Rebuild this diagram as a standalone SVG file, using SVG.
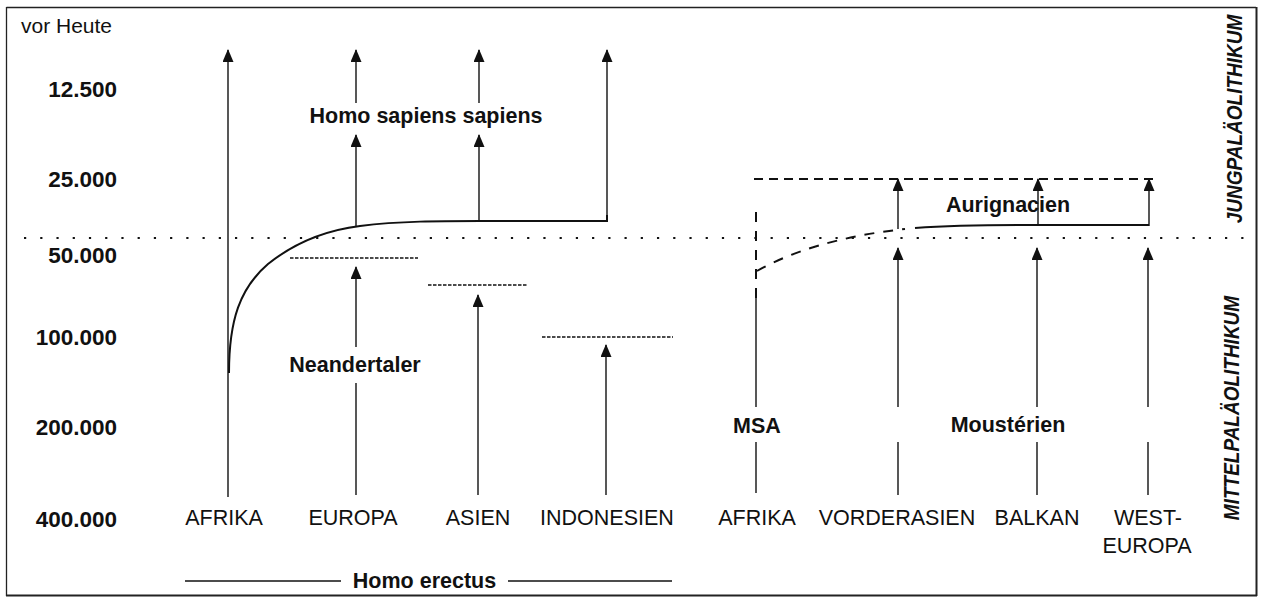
<svg xmlns="http://www.w3.org/2000/svg" width="1261" height="598" viewBox="0 0 1261 598">
<style>
.t{font-family:"Liberation Sans",Arial,sans-serif;fill:#111}
.b{font-weight:bold}
.n{font-size:22.5px;font-weight:bold;text-anchor:end}
.c{font-size:21.5px;text-anchor:middle}
.l{font-size:21.5px;font-weight:bold;text-anchor:middle}
.v{font-size:19px;font-weight:bold;font-style:italic;text-anchor:middle}
.ln{stroke:#111;stroke-width:1.4;fill:none}
.ar{stroke:#111;stroke-width:1.4;fill:none;marker-end:url(#ah)}
.cv{stroke:#111;stroke-width:2;fill:none}
.dd{stroke:#111;stroke-width:1.6;stroke-dasharray:3.5 1.5;fill:none}
.dl{stroke:#111;stroke-width:1.8;stroke-dasharray:9 6;fill:none}
.dc{stroke:#111;stroke-width:2;stroke-dasharray:10 9;fill:none}
</style>
<defs>
<marker id="ah" viewBox="0 0 13 11" refX="12" refY="5.5" markerWidth="13" markerHeight="11" orient="auto" markerUnits="userSpaceOnUse">
<path d="M0,0 L13,5.5 L0,11 Z" fill="#111"/>
</marker>
</defs>
<rect x="0" y="0" width="1261" height="598" fill="#fff"/>
<g id="frame">
<path d="M6.5,7.5 L1256,7.5 M6.5,7 L6.5,596" stroke="#222" stroke-width="1.3" fill="none"/>
<path d="M1256.5,7 L1256.5,596 M6,595.5 L1257,595.5" stroke="#222" stroke-width="2" fill="none"/>
</g>
<g id="axis">
<text class="t" x="21" y="33" font-size="21">vor Heute</text>
<text class="t n" x="117" y="97">12.500</text>
<text class="t n" x="117" y="187">25.000</text>
<text class="t n" x="117" y="263">50.000</text>
<text class="t n" x="117" y="345">100.000</text>
<text class="t n" x="117" y="435">200.000</text>
<text class="t n" x="117" y="527">400.000</text>
</g>
<g id="period-line">
<line x1="24" y1="238" x2="1250" y2="238" stroke="#111" stroke-width="2.2" stroke-dasharray="2.2 14.03"/>
</g>
<g id="periods">
<text class="t v" transform="translate(1242,119) rotate(-90) scale(1,1.18)">JUNGPALÄOLITHIKUM</text>
<text class="t v" transform="translate(1239,408) rotate(-90) scale(1,1.18)">MITTELPALÄOLITHIKUM</text>
</g>
<g id="connectors">
<line class="ar" x1="228" y1="497" x2="228" y2="50"/>
<path class="cv" d="M229,373 C229,320 240,288 268,264 C298,240 328,230 360,226 C400,221 440,221 480,221 L607,221 L607,215"/>
<line class="ar" x1="356" y1="227" x2="356" y2="135"/>
<line class="ar" x1="356" y1="103" x2="356" y2="50"/>
<line class="ar" x1="479" y1="221" x2="479" y2="135"/>
<line class="ar" x1="479" y1="103" x2="479" y2="50"/>
<line class="ar" x1="607" y1="221" x2="607" y2="50"/>
<line class="dd" x1="290" y1="258" x2="418" y2="258"/>
<line class="ln" x1="356" y1="495" x2="356" y2="383"/>
<line class="ar" x1="356" y1="347" x2="356" y2="267"/>
<line class="dd" x1="428" y1="285" x2="527" y2="285"/>
<line class="ar" x1="478" y1="495" x2="478" y2="295"/>
<line class="dd" x1="542" y1="337" x2="673" y2="337"/>
<line class="ar" x1="606" y1="495" x2="606" y2="345"/>
<line class="ln" x1="756" y1="493" x2="756" y2="442"/>
<line class="ln" x1="756" y1="407" x2="756" y2="298"/>
<line class="dc" x1="756" y1="298" x2="756" y2="208"/>
<line class="dl" x1="754" y1="179" x2="1153" y2="179"/>
<path class="dc" d="M757,271 C790,252 840,236 905,229"/>
<path class="cv" d="M915,228 C955,225 985,225 1020,225 L1149,225"/>
<line class="ar" x1="898" y1="229" x2="898" y2="179"/>
<line class="ar" x1="1038" y1="225" x2="1038" y2="179"/>
<line class="ar" x1="1149" y1="226" x2="1149" y2="179"/>
<line class="ln" x1="898" y1="495" x2="898" y2="442"/>
<line class="ar" x1="898" y1="407" x2="898" y2="248"/>
<line class="ln" x1="1037" y1="495" x2="1037" y2="442"/>
<line class="ar" x1="1037" y1="407" x2="1037" y2="248"/>
<line class="ln" x1="1148" y1="495" x2="1148" y2="442"/>
<line class="ar" x1="1148" y1="407" x2="1148" y2="248"/>
<line class="ln" x1="185" y1="581" x2="341" y2="581" stroke-width="1.2"/>
<line class="ln" x1="508" y1="581" x2="672" y2="581" stroke-width="1.2"/>
</g>
<g id="labels">
<text class="t l" x="426" y="123">Homo sapiens sapiens</text>
<text class="t l" x="355" y="372">Neandertaler</text>
<text class="t l" x="1008" y="212">Aurignacien</text>
<text class="t l" x="757" y="433">MSA</text>
<text class="t l" x="1008" y="432">Moustérien</text>
<text class="t l" x="424.5" y="588">Homo erectus</text>
</g>
<g id="regions">
<text class="t c" x="224" y="525">AFRIKA</text>
<text class="t c" x="353" y="525">EUROPA</text>
<text class="t c" x="478" y="525">ASIEN</text>
<text class="t c" x="607" y="525">INDONESIEN</text>
<text class="t c" x="757" y="525">AFRIKA</text>
<text class="t c" x="897" y="525">VORDERASIEN</text>
<text class="t c" x="1037" y="525">BALKAN</text>
<text class="t c" x="1148" y="525">WEST-</text>
<text class="t c" x="1147" y="553">EUROPA</text>
</g>
</svg>
